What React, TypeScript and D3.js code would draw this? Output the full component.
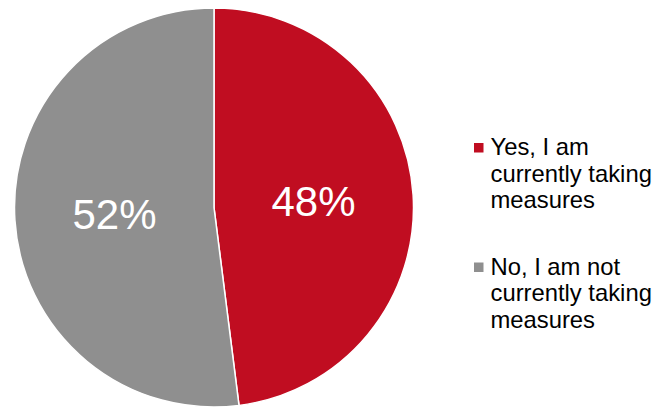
import React from "react";
import * as d3 from "d3";

const categories = ["Yes, I am currently taking measures", "No, I am not currently taking measures"];
const values = [48, 52];
const labels = ["48%", "52%"];
const legendLines = [["Yes, I am", "currently taking", "measures"], ["No, I am not", "currently taking", "measures"]];
const colors = ["#C00D21", "#8F8F8F"];

export default function App() {
  const W = 665, H = 409;
  const cx = 214, cy = 207.5, r = 199.5;
  const pie = d3.pie<number>().sort(null).value((d) => d);
  const arcs = pie(values);
  const arc = d3.arc<d3.PieArcDatum<number>>().innerRadius(0).outerRadius(r);
  const labelArc = d3.arc<d3.PieArcDatum<number>>().innerRadius(r / 2).outerRadius(r / 2);
  const font = "Liberation Sans, Arial, sans-serif";
  const legendY = [155, 274.5];
  return (
    <svg width={W} height={H} style={{ position: "absolute", left: 0, top: 0 }}>
      <rect width={W} height={H} fill="#fff" />
      <g transform={`translate(${cx},${cy})`}>
        {arcs.map((a, i) => (
          <path key={i} d={arc(a) || ""} fill={colors[i]} stroke="#fff" strokeWidth={1.5} />
        ))}
        {arcs.map((a, i) => {
          const [x, y] = labelArc.centroid(a);
          return (
            <text key={i} x={x} y={y + 15} textAnchor="middle" fill="#fff" fontFamily={font} fontSize={42}>
              {labels[i]}
            </text>
          );
        })}
      </g>
      {categories.map((c, i) => (
        <g key={c}>
          <rect x={474} y={legendY[i] - 12} width={9.5} height={9.5} fill={colors[i]} />
          <text fontFamily={font} fontSize={23.8} fill="#000">
            {legendLines[i].map((l, j) => (
              <tspan key={j} x={490.5} y={legendY[i] + j * 26.5}>{l}</tspan>
            ))}
          </text>
        </g>
      ))}
    </svg>
  );
}
